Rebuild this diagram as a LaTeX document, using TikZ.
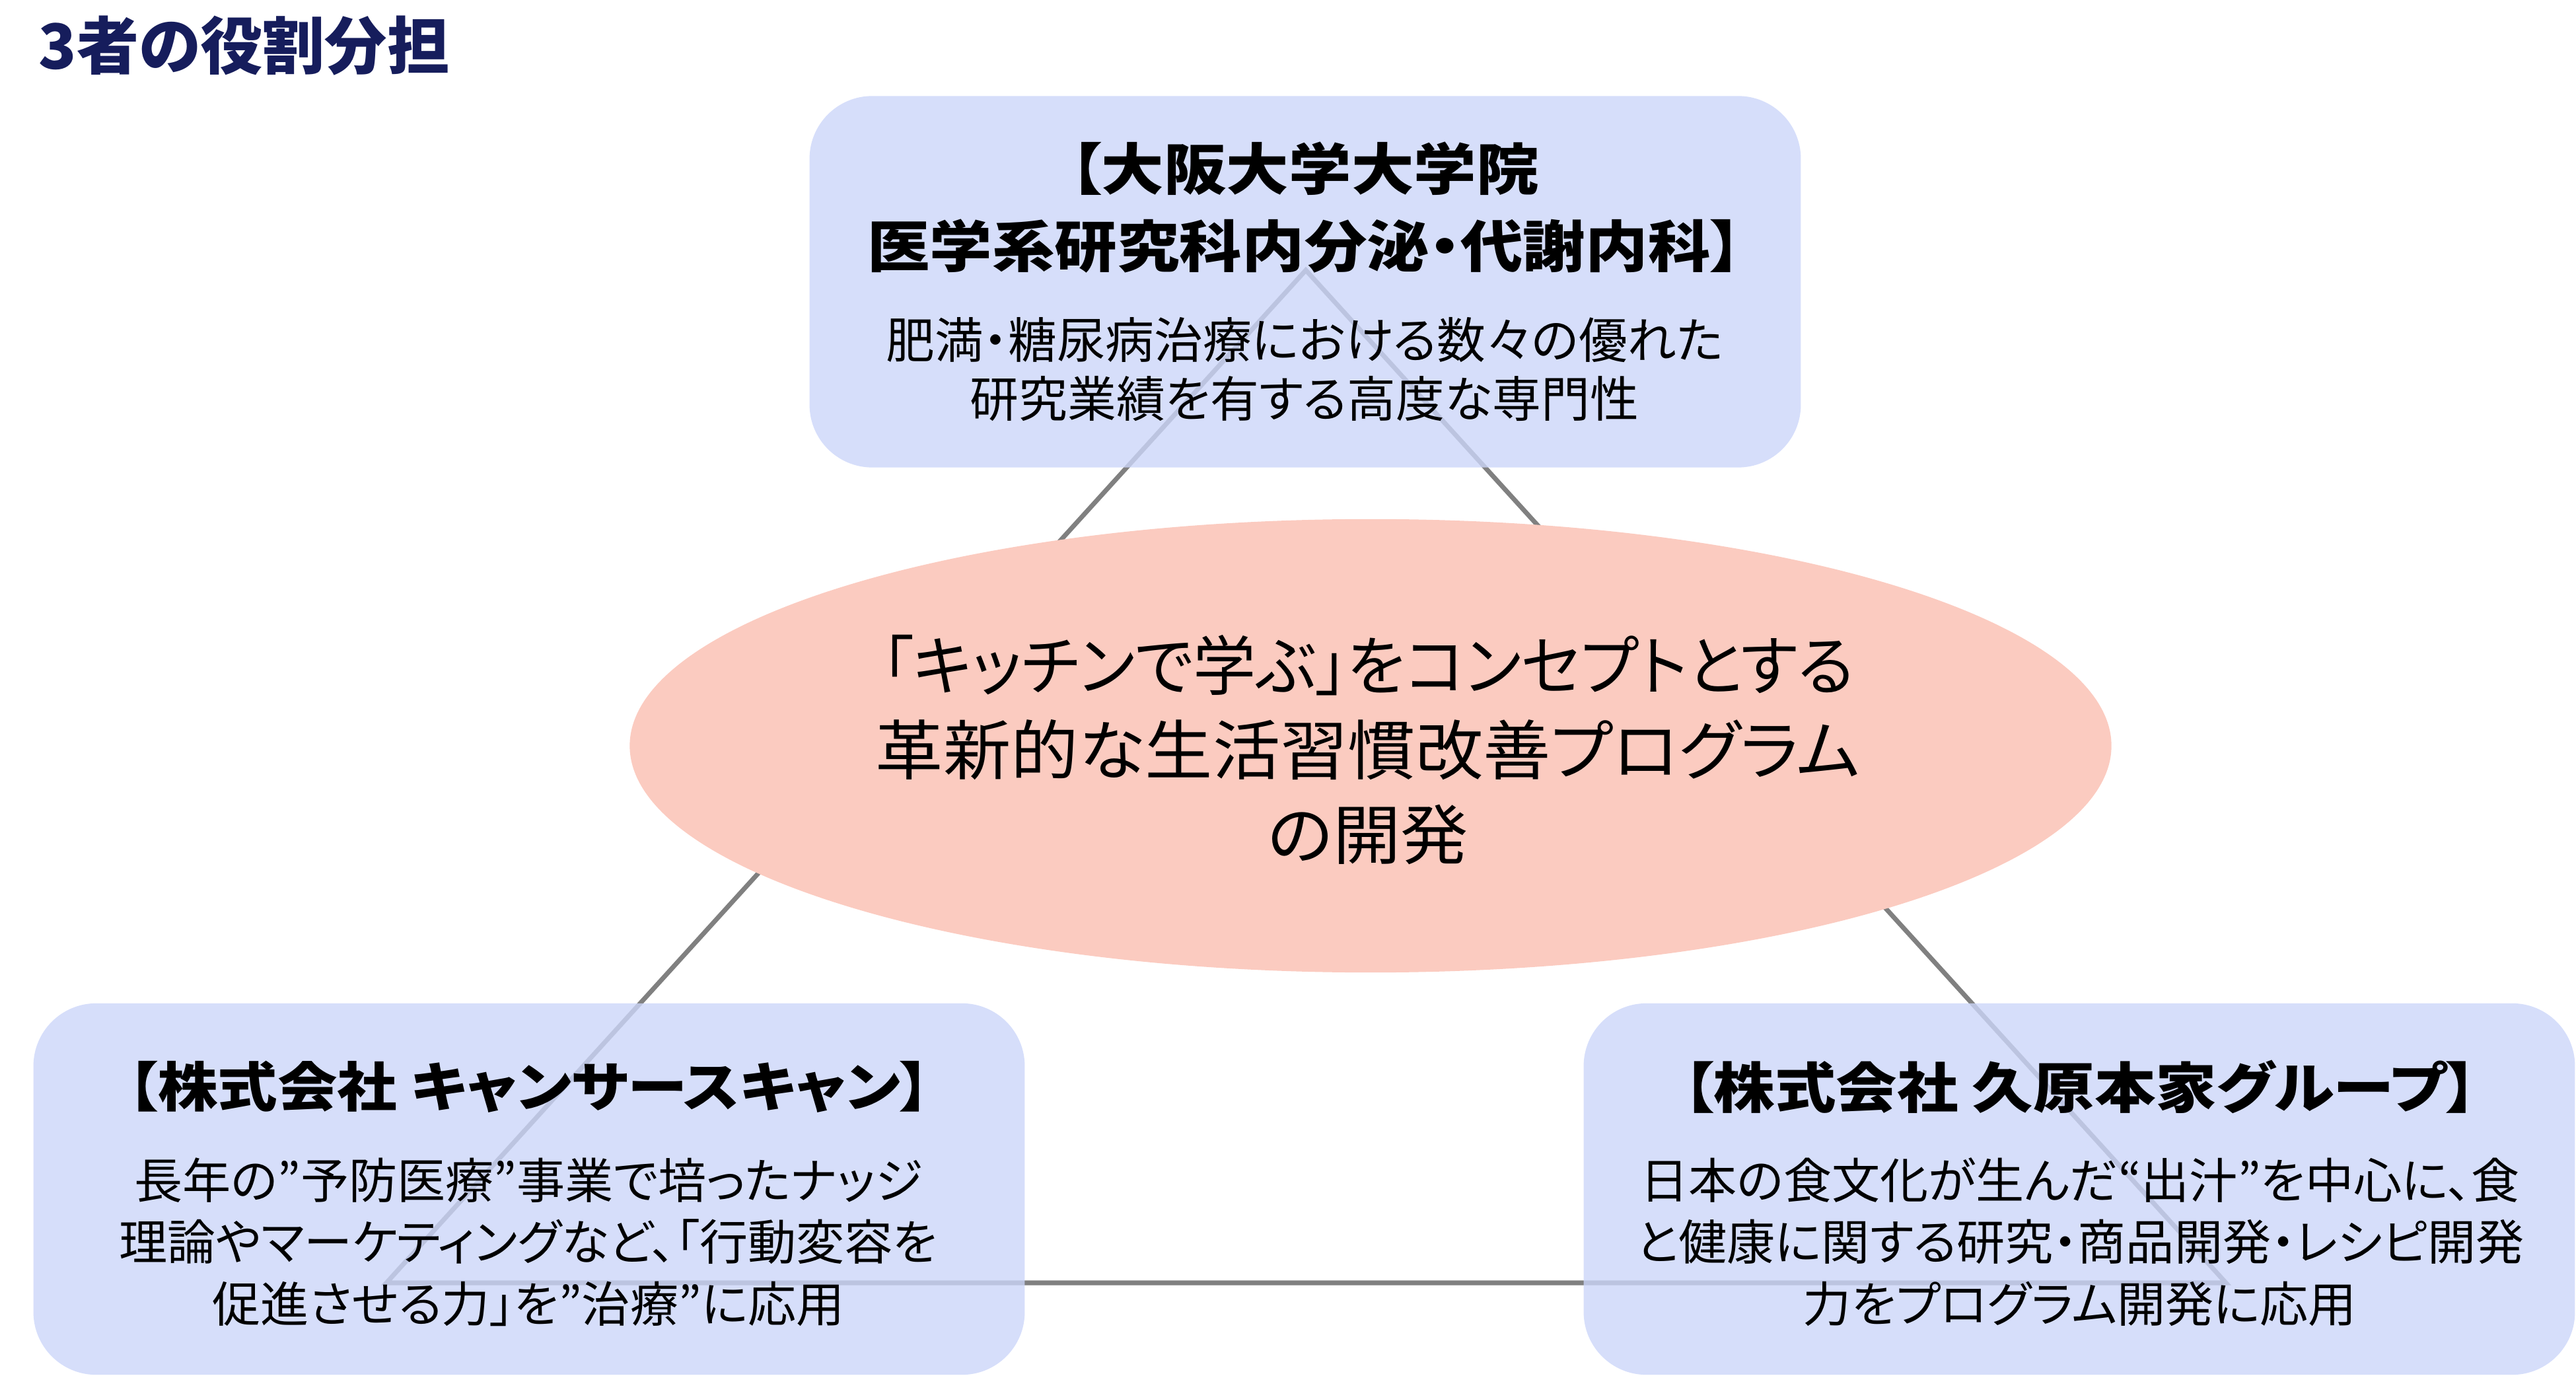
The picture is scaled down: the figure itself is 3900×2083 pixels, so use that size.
\documentclass[tikz,border=0pt]{standalone}
\usepackage{fontspec}
\setmainfont{Noto Sans CJK JP}[RawFeature=+palt]
\newfontfamily\headfont{Noto Sans CJK JP}[RawFeature=+palt,FakeStretch=1.12]
\newfontfamily\goalfont{Noto Sans CJK JP}[RawFeature=+palt,FakeStretch=1.04]
\usetikzlibrary{shapes.geometric}
\definecolor{boxblue}{RGB}{204,214,249}
\definecolor{ellfill}{RGB}{251,203,192}
\definecolor{linegray}{RGB}{128,128,128}
\definecolor{titlenavy}{RGB}{22,29,92}
\begin{document}
\begin{tikzpicture}[x=0.01cm,y=-0.01cm,
  rolebox/.style={draw=none, fill=boxblue, fill opacity=0.8, text opacity=1, rounded corners=0.95cm, minimum width=15cm, minimum height=5.62cm, inner sep=0},
  headtext/.style={inner sep=0, align=center, font=\headfont\bfseries\fontsize{23.5}{33}\selectfont},
  bodytext/.style={inner sep=0, align=center, font=\fontsize{20.8}{26.6}\selectfont},
  link/.style={draw=linegray, line width=2pt}]
\useasboundingbox (0,0) rectangle (3900,2083);
% triangle of partnerships
\coordinate (apex) at (1977,409);
\coordinate (bl) at (585,1942);
\coordinate (br) at (3370,1942);
\draw[link] (apex) -- (bl) -- (br) -- cycle;
% title
\node[anchor=west, inner sep=0, text=titlenavy, font=\bfseries\fontsize{26.8}{30}\selectfont] (title) at (58,69) {3者の役割分担};
% role boxes
\node[rolebox] (osaka) at (1976,426.5) {};
\node[rolebox] (cancer) at (801,1800) {};
\node[rolebox] (kubara) at (3148,1800) {};
% central ellipse
\node[ellipse, fill=ellfill, draw=none, minimum width=22.42cm, minimum height=6.86cm, inner sep=0] (goal) at (2075,1129) {};
\node[inner sep=0, align=center, font=\goalfont\fontsize{28}{36.4}\selectfont] (goaltext) at (2071,1135)
  {\scalebox{0.93}[1]{「キッチンで学ぶ」をコンセプトとする}\\革新的な生活習慣改善プログラム\\の開発};
% texts
\node[headtext, font=\headfont\bfseries\fontsize{24}{33.3}\selectfont] (osakahead) at (1975,314.5)
  {【大阪大学大学院\\医学系研究科内分泌・代謝内科】};
\node[bodytext, font=\fontsize{21}{25.3}\selectfont] (osakabody) at (1975,559.5)
  {肥満・糖尿病治療における数々の優れた\\研究業績を有する高度な専門性};
\node[headtext, font=\headfont\bfseries\fontsize{23}{33}\selectfont] (cancerhead) at (801,1645) {【株式会社 キャンサースキャン】};
\node[bodytext] (cancerbody) at (800,1880)
  {長年の”予防医療”事業で培ったナッジ\\理論やマーケティングなど、「行動変容を\\促進させる力」を”治療”に応用};
\node[headtext] (kubarahead) at (3149,1645) {【株式会社 久原本家グループ】};
\node[bodytext] (kubarabody) at (3149,1880)
  {日本の食文化が生んだ“出汁”を中心に、食\\と健康に関する研究・商品開発・レシピ開発\\力をプログラム開発に応用};
\end{tikzpicture}
\end{document}
